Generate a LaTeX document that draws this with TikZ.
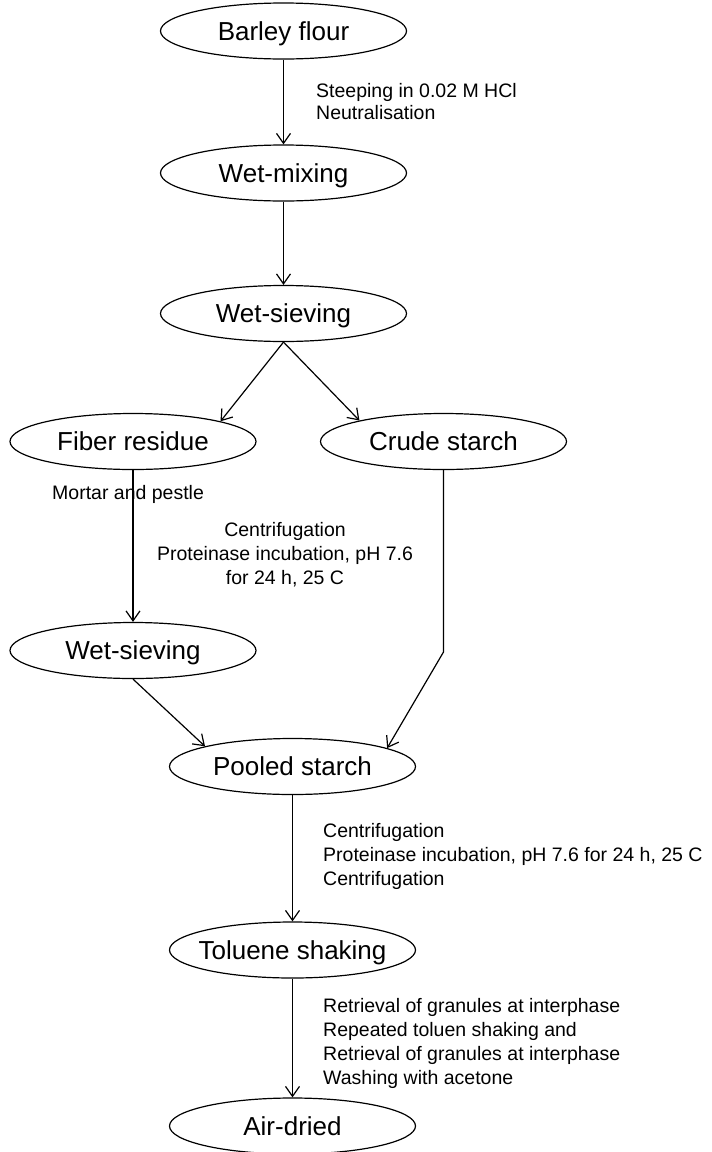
\documentclass[tikz,border=0pt]{standalone}
\usepackage{fontspec}
\setmainfont{Liberation Sans}
\usetikzlibrary{arrows.meta,shapes.geometric}
\begin{document}
\begin{tikzpicture}[x=1pt,y=-1pt,
  stage/.style={ellipse,draw,line width=1.2pt,minimum width=246pt,minimum height=56pt,
    inner sep=0pt,font=\fontsize{26}{31}\selectfont,text height=18pt,text depth=0pt},
  flow/.style={line width=1.2pt,-{Straight Barb[length=10pt,width=14pt,line width=1.2pt]}},
  note/.style={inner sep=0pt,font=\fontsize{19.5}{24}\selectfont}]
\useasboundingbox (0,0) rectangle (712,1152);
% stages
\node[stage] (flour)   at (283.5,31)   {\makebox[0pt]{Barley flour}};
\node[stage] (mix)     at (283.5,173)  {\makebox[0pt]{Wet-mixing}};
\node[stage] (sieveA)  at (283.5,313.5){\makebox[0pt]{Wet-sieving}};
\node[stage] (fiber)   at (133,441.5)  {\makebox[0pt]{Fiber residue}};
\node[stage] (crude)   at (443.5,441.5){\makebox[0pt]{Crude starch}};
\node[stage] (sieveB)  at (133,650.5)  {\makebox[0pt]{Wet-sieving}};
\node[stage] (pooled)  at (292.5,766.5){\makebox[0pt]{Pooled starch}};
\node[stage] (toluene) at (292.5,950)  {\makebox[0pt]{Toluene shaking}};
\node[stage] (air)     at (292.5,1126) {\makebox[0pt]{Air-dried}};
\coordinate (crudebend) at (443.5,652);
% connectors
\draw[flow] (flour.south) -- (mix.north);
\draw[flow] (mix.south) -- (sieveA.north);
\draw[flow] (sieveA.south) -- (fiber.13);
\draw[flow] (sieveA.south) -- (crude.166);
\draw[flow] (fiber.south) -- (sieveB.north);
\draw[flow] (sieveB.south) -- (pooled.167);
\draw[flow] (crude.south) -- (crudebend) -- (pooled.11);
\draw[flow] (pooled.south) -- (toluene.north);
\draw[flow] (toluene.south) -- (air.north);
% labels
\node[note,anchor=north west,align=left,font=\fontsize{19.5}{22.5}\selectfont] (l1) at (316,83)
  {Steeping in 0.02 M HCl\\Neutralisation};
\node[note,anchor=base west] (l2) at (52,499) {Mortar and pestle};
\node[note,anchor=north,align=center] (l3) at (285,522)
  {Centrifugation\\Proteinase incubation, pH 7.6\\for 24 h, 25 C};
\node[note,anchor=north west,align=left] (l4) at (323,823)
  {Centrifugation\\Proteinase incubation, pH 7.6 for 24 h, 25 C\\Centrifugation};
\node[note,anchor=north west,align=left] (l5) at (323,998)
  {Retrieval of granules at interphase\\Repeated toluen shaking and\\Retrieval of granules at interphase\\Washing with acetone};
\end{tikzpicture}
\end{document}
